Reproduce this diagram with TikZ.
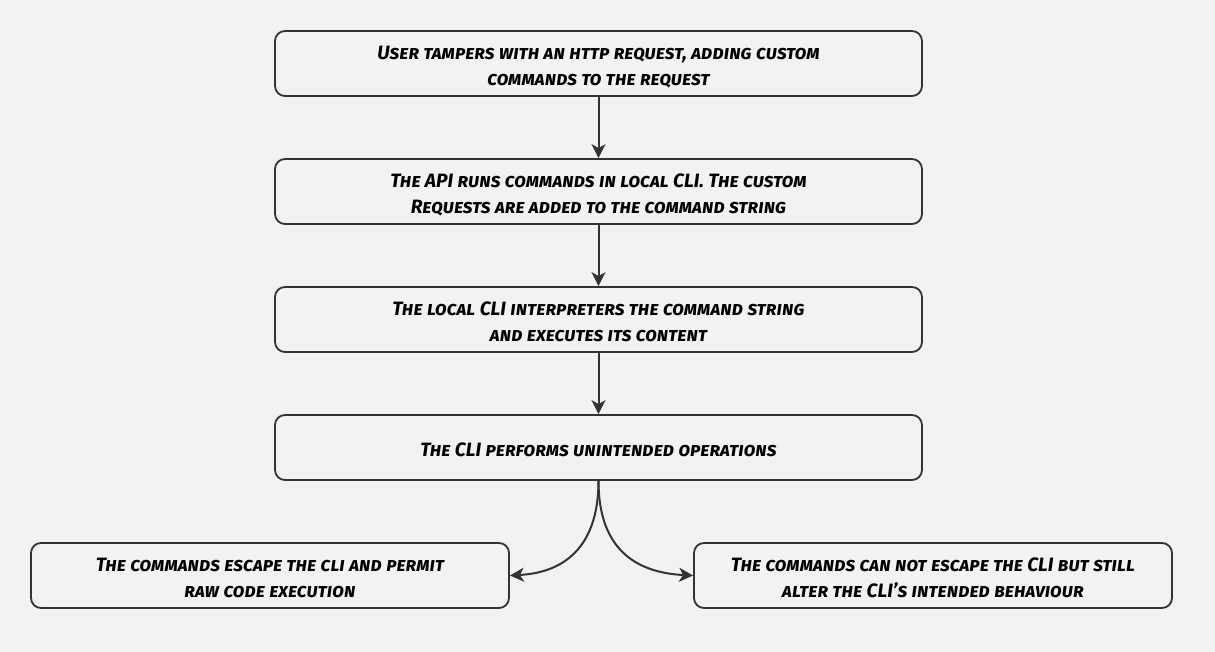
\documentclass[tikz,border=0pt]{standalone}
\usepackage{fontspec}
\setmainfont{Fira Sans}
\usetikzlibrary{arrows.meta}
\definecolor{bg}{HTML}{F2F2F2}
\definecolor{ink}{HTML}{333333}
\newcommand{\boxtext}[1]{\raisebox{-3.5pt}[\height][\depth]{\begin{tabular}{@{}c@{}}#1\end{tabular}}}
\tikzset{
  box/.style={draw=ink, line width=1.8pt, rounded corners=10pt, fill=bg,
    minimum height=65pt, inner sep=0pt,
    font=\fontsize{19.3}{26}\selectfont\bfseries\scshape\itshape, text=black},
  wide/.style={box, minimum width=647pt},
  side/.style={box, minimum width=478pt},
  link/.style={draw=ink, line width=2pt, -{Stealth[length=14pt,width=14pt,inset=4pt]}}
}
\begin{document}
\begin{tikzpicture}[x=1pt,y=-1pt]
\fill[bg] (0,0) rectangle (1215,652);
\useasboundingbox (0,0) rectangle (1215,652);
\node[wide] (a) at (598.5,63.5) {\boxtext{User tampers with an http request, adding custom\\commands to the request}};
\node[wide] (b) at (598.5,191.5) {\boxtext{The API runs commands in local CLI. The custom\\Requests are added to the command string}};
\node[wide] (c) at (598.5,319.5) {\boxtext{The local CLI interpreters the command string\\and executes its content}};
\node[wide] (d) at (598.5,447.5) {\boxtext{The CLI performs unintended operations}};
\node[side] (e) at (270,575.5) {\boxtext{The commands escape the cli and permit\\raw code execution}};
\node[side] (f) at (933,575.5) {\boxtext{The commands can not escape the CLI but still\\alter the CLI's intended behaviour}};
\draw[link] (a) -- (b);
\draw[link] (b) -- (c);
\draw[link] (c) -- (d);
\draw[link] (d.south) .. controls (598.5,535) and (575,572) .. (e.east);
\draw[link] (d.south) .. controls (598.5,535) and (622,572) .. (f.west);
\end{tikzpicture}
\end{document}
